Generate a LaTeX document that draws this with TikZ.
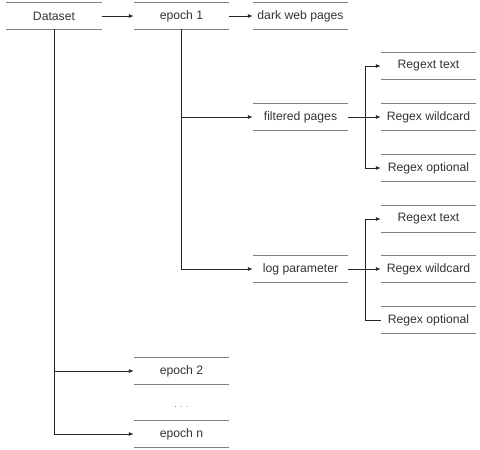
\documentclass[tikz,border=0pt]{standalone}
\usepackage{fontspec}
\setmainfont{Liberation Sans}
\usetikzlibrary{arrows.meta}
\definecolor{txt}{HTML}{333333}
\definecolor{ln}{HTML}{808080}
\tikzset{
  item/.style={minimum width=95pt, minimum height=26pt, inner sep=0pt, text=txt, font=\fontsize{12.2}{14}\selectfont,
    append after command={(\tikzlastnode.north west) edge[rule] (\tikzlastnode.north east)
                          (\tikzlastnode.south west) edge[rule] (\tikzlastnode.south east)}},
  rule/.style={draw=ln, line width=0.9pt},
  conn/.style={draw=black!85, line width=0.8pt},
  arr/.style={conn, -{Latex[length=5pt,width=4pt]}},
}
\begin{document}
\begin{tikzpicture}[x=1pt,y=-1pt]
\useasboundingbox (0,0) rectangle (480,450);
\node[item] (ds) at (54,16) {Dataset};
\node[item] (e1) at (181.5,16) {epoch 1};
\node[item] (dw) at (300.5,16) {dark web pages};
\node[item] (fp) at (300.5,117) {filtered pages};
\node[item] (lp) at (300.5,269) {log parameter};
\node[item] (rt1) at (428.5,66) {Regext text};
\node[item] (rw1) at (428.5,117) {Regex wildcard};
\node[item] (ro1) at (428.5,168) {Regex optional};
\node[item] (rt2) at (428.5,219) {Regext text};
\node[item] (rw2) at (428.5,269) {Regex wildcard};
\node[item] (ro2) at (428.5,320) {Regex optional};
\node[item] (e2) at (181.5,371) {epoch 2};
\node[text=txt!70, font=\fontsize{9}{10}\selectfont] (dots) at (181.5,407) {.\hspace{3.5pt}.\hspace{3.5pt}.};
\node[item] (en) at (181.5,434) {epoch n};
\coordinate (j1) at (365,117);
\coordinate (j2) at (365,269);
\draw[arr] (ds) -- (e1);
\draw[arr] (e1) -- (dw);
\draw[arr] (e1.south) |- (fp.west);
\draw[arr] (e1.south) |- (lp.west);
\draw[arr] (ds.south) |- (e2.west);
\draw[arr] (ds.south) |- (en.west);
\draw[arr] (fp) -- (rw1);
\draw[arr] (j1) |- (rt1.west);
\draw[arr] (j1) |- (ro1.west);
\draw[arr] (lp) -- (rw2);
\draw[arr] (j2) |- (rt2.west);
\draw[conn] (j2) |- (ro2.west);
\end{tikzpicture}
\end{document}
